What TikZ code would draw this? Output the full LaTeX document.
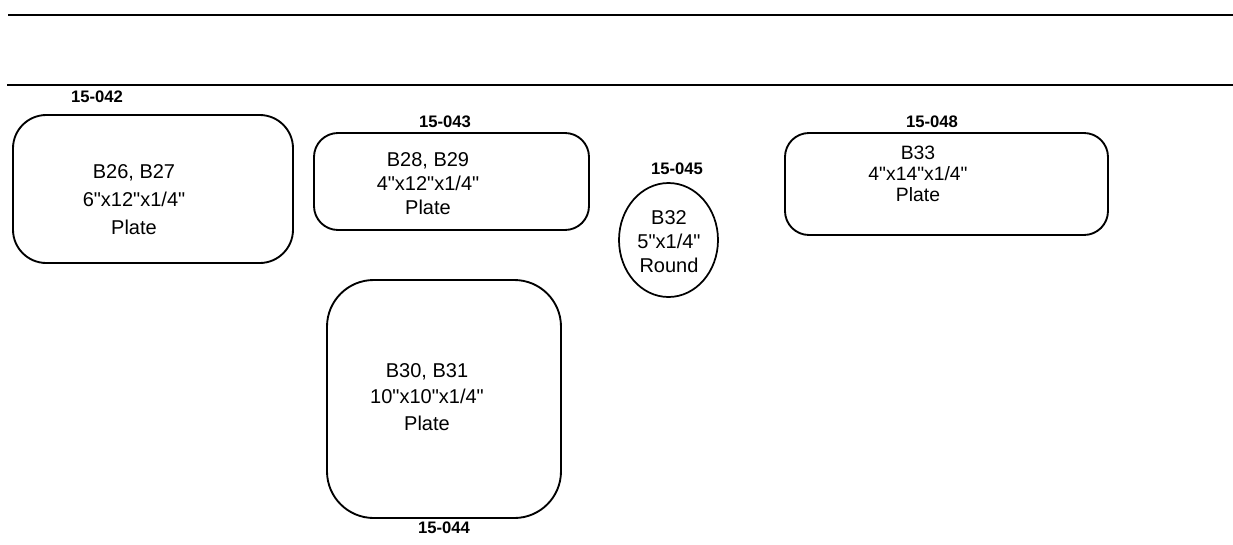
\documentclass[tikz,border=0pt]{standalone}
\usepackage{fontspec}
\setmainfont{Liberation Sans}[Ligatures=TeXOff]
\usetikzlibrary{positioning,shapes.geometric}
\tikzset{
  plate/.style={draw, line width=1.4pt, rounded corners=#1, inner sep=0pt},
  roundplate/.style={draw, ellipse, line width=1.3pt, inner sep=0pt},
  partno/.style={font=\bfseries\fontsize{12.5}{15}\selectfont},
  spec/.style={align=center, font=\fontsize{15}{#1}\selectfont},
  rule/.style={line width=1.7pt}
}

\begin{document}
\begin{tikzpicture}[x=0.75pt,y=-0.75pt]
\useasboundingbox (0,0) rectangle (1233,544);
% title strip
\coordinate (ta) at (8,15);
\coordinate (tb) at (1233,15);
\coordinate (ba) at (7,85);
\coordinate (bb) at (1233,85);
\draw[rule] (ta) -- (tb);
\draw[rule] (ba) -- (bb);
% plates
\foreach \n/\x/\y/\w/\h/\r in {p42/153/189/280/148/25, p43/451.5/181.5/275/97/18,
                               p48/946.5/184/323/102/18, p44/444/399/234/238/35}
    \node[plate=\r, minimum width=\w*0.75pt, minimum height=\h*0.75pt] (\n) at (\x,\y) {};
\node[roundplate, minimum width=99*0.75pt, minimum height=114*0.75pt] (p45) at (668.5,240) {};
% part numbers
\node[partno] (n42) at (97,97) {15-042};
\node[partno] (n43) at (445,122) {15-043};
\node[partno] (n45) at (677,169) {15-045};
\node[partno] (n48) at (932,122) {15-048};
\node[partno] (n44) at (444,528) {15-044};
% sizes
\node[spec=21pt] (s42) at (134,200) {B26, B27\\6"x12"x1/4"\\Plate};
\node[spec=18pt] (s43) at (428,184) {B28, B29\\4"x12"x1/4"\\Plate};
\node[spec=18pt] (s45) at (669,242) {B32\\5"x1/4"\\Round};
\node[spec=16pt, font=\fontsize{14.5}{16}\selectfont] (s48) at (918,174) {B33\\4"x14"x1/4"\\Plate};
\node[spec=20pt] (s44) at (427,397) {B30, B31\\10"x10"x1/4"\\Plate};
\end{tikzpicture}
\end{document}
